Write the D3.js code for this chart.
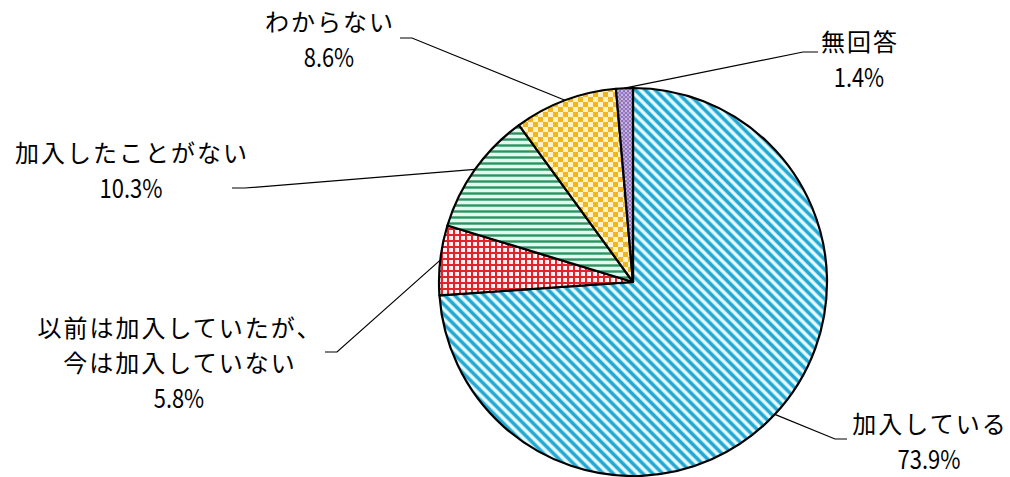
<!DOCTYPE html>
<html>
<head>
<meta charset="utf-8">
<script src="https://cdn.jsdelivr.net/npm/d3@7"></script>
<style>
  body { margin: 0; background: #fff; }
  svg { display: block; }
  .lbl { font-family: "Noto Sans CJK JP", sans-serif; fill: #000; }
</style>
</head>
<body>
<div class="grafico"></div>
<script>
// data
const categories = ['加入している', '以前は加入していたが、|今は加入していない', '加入したことがない', 'わからない', '無回答']
const values = [73.9, 5.8, 10.3, 8.6, 1.4]
const pctLabels = ['73.9%', '5.8%', '10.3%', '8.6%', '1.4%']

// layout of the labels (center x, first baseline, gap to the % line, knee of leader, end of leader)
const labelPos = [
  { x: 929, y: 433, gap: 36, knee: [835, 439], end: [847, 439] },
  { x: 179, y: 337, gap: 36, knee: [337, 352], end: [325, 352] },
  { x: 131, y: 162, gap: 36, knee: [245, 188], end: [232, 188] },
  { x: 329, y: 31, gap: 36, knee: [412, 38], end: [400, 38] },
  { x: 859, y: 51, gap: 36, knee: [803, 52], end: [818, 52] }
]
const fills = ['url(#pBlue)', 'url(#pRed)', 'url(#pGreen)', 'url(#pYellow)', 'url(#pPurple)']

const w = 1010
const h = 477
const cx = 633
const cy = 282
const r = 194

const svg = d3.select('.grafico')
  .append('svg')
  .attr('width', w)
  .attr('height', h)

/*Patterns*/
const defs = svg.append('defs')

const blue = defs.append('pattern')
  .attr('id', 'pBlue')
  .attr('patternUnits', 'userSpaceOnUse')
  .attr('width', 14).attr('height', 7)
  .attr('patternTransform', 'rotate(45)')
blue.append('rect').attr('width', 14).attr('height', 7).attr('fill', '#f0fbfd')
blue.append('rect').attr('y', 0.3).attr('width', 14).attr('height', 4.4).attr('fill', '#86d8ee')
blue.append('rect').attr('y', 1).attr('width', 14).attr('height', 3).attr('fill', '#22a8d2')

const red = defs.append('pattern')
  .attr('id', 'pRed')
  .attr('patternUnits', 'userSpaceOnUse')
  .attr('width', 6).attr('height', 6)
red.append('rect').attr('width', 6).attr('height', 6).attr('fill', '#ffeef2')
red.append('rect').attr('x', 0).attr('width', 2).attr('height', 6).attr('fill', '#e2242a')
red.append('rect').attr('y', 0).attr('width', 6).attr('height', 2).attr('fill', '#e2242a')

const green = defs.append('pattern')
  .attr('id', 'pGreen')
  .attr('patternUnits', 'userSpaceOnUse')
  .attr('width', 6).attr('height', 6)
green.append('rect').attr('width', 6).attr('height', 6).attr('fill', '#e4f8f0')
green.append('rect').attr('y', 0).attr('width', 6).attr('height', 3).attr('fill', '#9ad6b9')
green.append('rect').attr('y', 0.5).attr('width', 6).attr('height', 2).attr('fill', '#2f8f60')

const yellow = defs.append('pattern')
  .attr('id', 'pYellow')
  .attr('patternUnits', 'userSpaceOnUse')
  .attr('width', 10).attr('height', 10)
yellow.append('rect').attr('width', 10).attr('height', 10).attr('fill', '#fff3c6')
yellow.append('rect').attr('width', 5).attr('height', 5).attr('fill', '#f1b520')
yellow.append('rect').attr('x', 5).attr('y', 5).attr('width', 5).attr('height', 5).attr('fill', '#f1b520')

const purple = defs.append('pattern')
  .attr('id', 'pPurple')
  .attr('patternUnits', 'userSpaceOnUse')
  .attr('width', 4).attr('height', 4)
purple.append('rect').attr('width', 4).attr('height', 4).attr('fill', '#9175bb')
purple.append('circle').attr('cx', 1).attr('cy', 1).attr('r', 0.9).attr('fill', '#e2d6f2')
purple.append('circle').attr('cx', 3).attr('cy', 3).attr('r', 0.9).attr('fill', '#c9b6e6')

/*Pie*/
const pie = d3.pie().sort(null).value(d => d)
const arcs = pie(values)
const arc = d3.arc().innerRadius(0).outerRadius(r)
const edge = d3.arc().innerRadius(r).outerRadius(r)

const g = svg.append('g').attr('transform', `translate(${cx},${cy})`)

g.selectAll('path')
  .data(arcs)
  .enter()
  .append('path')
  .attr('d', arc)
  .attr('fill', (d, i) => fills[i])
  .attr('stroke', '#000')
  .attr('stroke-width', 2.2)
  .attr('stroke-linejoin', 'round')

/*Leader lines*/
svg.append('g')
  .selectAll('polyline')
  .data(arcs)
  .enter()
  .append('polyline')
  .attr('points', (d, i) => {
    const p = edge.centroid(d)
    const lp = labelPos[i]
    return [[p[0] + cx, p[1] + cy], lp.knee, lp.end].map(q => q.join(',')).join(' ')
  })
  .attr('fill', 'none')
  .attr('stroke', '#000')
  .attr('stroke-width', 1.2)

/*Labels*/
const labels = svg.append('g')
categories.forEach((c, i) => {
  const lp = labelPos[i]
  const lines = c.split('|')
  lines.forEach((line, j) => {
    labels.append('text')
      .attr('class', 'lbl')
      .attr('text-anchor', 'middle')
      .attr('x', lp.x + 1)
      .attr('y', lp.y + j * 35)
      .attr('font-size', 24)
      .attr('letter-spacing', 2)
      .text(line)
  })
  const pct = pctLabels[i]
  labels.append('text')
    .attr('class', 'lbl')
    .attr('text-anchor', 'middle')
    .attr('x', lp.x)
    .attr('y', lp.y + (lines.length - 1) * 35 + lp.gap)
    .attr('font-size', 26)
    .attr('textLength', pct.length * 12.6)
    .attr('lengthAdjust', 'spacingAndGlyphs')
    .text(pct)
})
</script>
</body>
</html>
